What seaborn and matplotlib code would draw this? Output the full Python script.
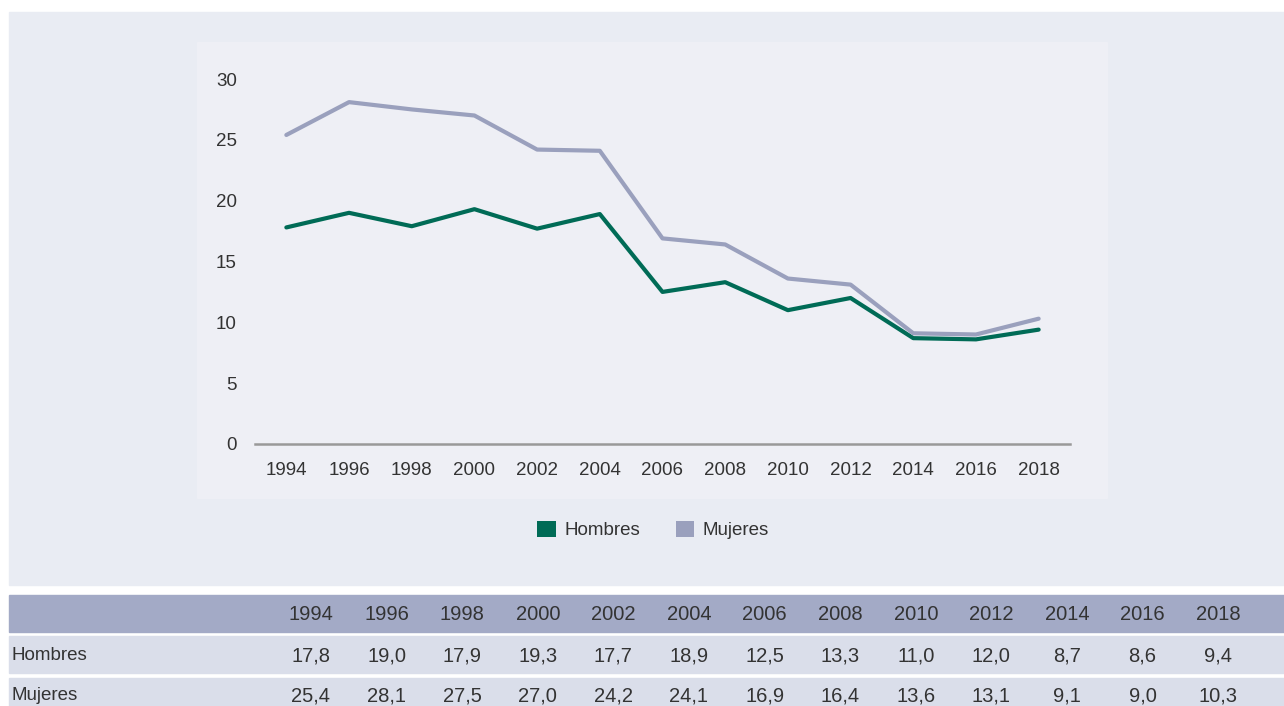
import numpy as np
import pandas as pd
import matplotlib
matplotlib.use("Agg")
import matplotlib.pyplot as plt
from matplotlib.patches import Rectangle, Patch
import seaborn as sns

# Datos
years = [1994, 1996, 1998, 2000, 2002, 2004, 2006, 2008, 2010, 2012, 2014, 2016, 2018]
hombres = [17.8, 19.0, 17.9, 19.3, 17.7, 18.9, 12.5, 13.3, 11.0, 12.0, 8.7, 8.6, 9.4]
mujeres = [25.4, 28.1, 27.5, 27.0, 24.2, 24.1, 16.9, 16.4, 13.6, 13.1, 9.1, 9.0, 10.3]
series_names = ["Hombres", "Mujeres"]
y_ticks = [0, 5, 10, 15, 20, 25, 30]

COL_H = "#006b56"
COL_M = "#9aa0bd"
TXT = "#333333"
FS = 13.5
FS_TAB = 14.5

sns.set_theme(style="white")
plt.rcParams["font.family"] = ["Liberation Sans", "DejaVu Sans"]

df = pd.DataFrame({"year": years * 2,
                   "valor": hombres + mujeres,
                   "grupo": ["Hombres"] * len(years) + ["Mujeres"] * len(years)})

W, H = 1284, 706
fig = plt.figure(figsize=(W / 100, H / 100), dpi=100, facecolor="white")

def fx(px):
    return px / W

def fy(py):
    return 1 - py / H

def fondo(x0, y0, x1, y1, color):
    fig.patches.append(Rectangle((fx(x0), fy(y1)), (x1 - x0) / W, (y1 - y0) / H,
                                 transform=fig.transFigure, color=color, zorder=-10))

# fondos
fondo(9, 12, 1284, 585, "#e9ecf3")
fondo(197, 42, 1107, 498, "#eeeff5")

ax = fig.add_axes([fx(255), fy(444), fx(1070 - 255), (444 - 79) / H])
ax.set_facecolor("none")
sns.lineplot(data=df, x="year", y="valor", hue="grupo", hue_order=series_names,
             palette=[COL_H, COL_M], linewidth=3.0, ax=ax, legend=False)
ax.set_xlim(1993, 2019)
ax.set_ylim(0, 30)
ax.set_xticks(years)
ax.set_xticklabels([str(y) for y in years], fontsize=FS, color=TXT)
ax.set_yticks(y_ticks)
ax.set_yticklabels([str(v) for v in y_ticks], fontsize=FS, color=TXT)
ax.tick_params(axis="both", length=0)
ax.tick_params(axis="x", pad=13)
ax.tick_params(axis="y", pad=13)
ax.set_xlabel("")
ax.set_ylabel("")
for s in ["top", "right", "left"]:
    ax.spines[s].set_visible(False)
ax.spines["bottom"].set_color("#999999")
ax.spines["bottom"].set_linewidth(1.8)
ax.spines["bottom"].set_zorder(0)

handles = [Patch(facecolor=COL_H, edgecolor="none"), Patch(facecolor=COL_M, edgecolor="none")]
fig.legend(handles, series_names, loc="center", bbox_to_anchor=(fx(653), fy(530)),
           ncol=2, frameon=False, fontsize=FS, handlelength=1.0, handleheight=1.0,
           handletextpad=0.45, columnspacing=1.9, labelcolor=TXT)

# tabla
col_x0, col_dx = 311, 75.6
rows = [(595, 632, "#a3aac6", "", [str(y) for y in years]),
        (636, 673, "#dadeea", "Hombres", [f"{v:.1f}".replace(".", ",") for v in hombres]),
        (678, 714, "#dadeea", "Mujeres", [f"{v:.1f}".replace(".", ",") for v in mujeres])]
for top, bot, color, label, vals in rows:
    fondo(9, top, 1284, bot, color)
    yc = fy((top + min(bot, 712)) / 2 + 1)
    if label:
        fig.text(fx(12), yc, label, ha="left", va="center", fontsize=FS, color=TXT)
    for i, v in enumerate(vals):
        fig.text(fx(col_x0 + i * col_dx), yc, v, ha="center", va="center",
                 fontsize=FS_TAB, color=TXT)

fig.savefig("out.png", dpi=100, facecolor="white")
